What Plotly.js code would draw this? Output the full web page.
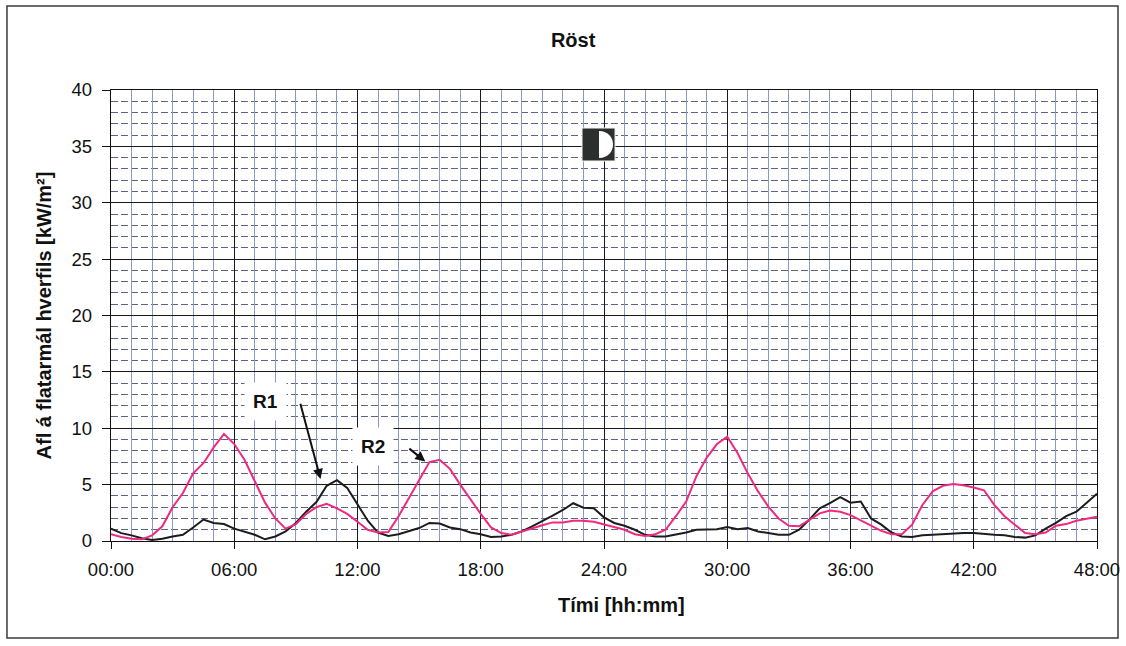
<!DOCTYPE html>
<html>
<head>
<meta charset="utf-8">
<script src="https://cdn.plot.ly/plotly-3.0.1.min.js"></script>
<style>
  html, body { margin: 0; padding: 0; background: #ffffff; }
  #chart { width: 1126px; height: 646px; }
</style>
</head>
<body>
<div id="chart"></div>
<script>
// Time of day in hours, half-hour steps over two days
const hours = [
  0, 0.5, 1, 1.5, 2, 2.5, 3, 3.5, 4, 4.5, 5, 5.5, 6, 6.5, 7, 7.5, 8, 8.5, 9, 9.5,
  10, 10.5, 11, 11.5, 12, 12.5, 13, 13.5, 14, 14.5, 15, 15.5, 16, 16.5, 17, 17.5,
  18, 18.5, 19, 19.5, 20, 20.5, 21, 21.5, 22, 22.5, 23, 23.5, 24, 24.5, 25, 25.5,
  26, 26.5, 27, 27.5, 28, 28.5, 29, 29.5, 30, 30.5, 31, 31.5, 32, 32.5, 33, 33.5,
  34, 34.5, 35, 35.5, 36, 36.5, 37, 37.5, 38, 38.5, 39, 39.5, 40, 40.5, 41, 41.5,
  42, 42.5, 43, 43.5, 44, 44.5, 45, 45.5, 46, 46.5, 47, 47.5, 48
];

// Power per unit area at station R1 [kW/m²]
const powerR1 = [
  1.1, 0.7, 0.5, 0.25, 0.1, 0.2, 0.4, 0.55, 1.2, 1.9, 1.6, 1.5, 1.1, 0.8, 0.55, 0.15, 0.4, 0.85, 1.6, 2.6,
  3.45, 4.9, 5.4, 4.7, 3.2, 1.8, 0.75, 0.45, 0.6, 0.85, 1.15, 1.6, 1.55, 1.2, 1.05, 0.75,
  0.6, 0.35, 0.4, 0.55, 0.85, 1.3, 1.75, 2.25, 2.75, 3.35, 2.95, 2.9, 2.1, 1.6, 1.35, 1.0,
  0.55, 0.4, 0.4, 0.55, 0.75, 1.0, 1.05, 1.05, 1.25, 1.05, 1.15, 0.85, 0.7, 0.55, 0.55, 1.0,
  1.9, 2.9, 3.35, 3.9, 3.4, 3.5, 2.0, 1.45, 0.75, 0.4, 0.35, 0.5, 0.55, 0.6, 0.7, 0.7,
  0.7, 0.6, 0.55, 0.5, 0.35, 0.3, 0.5, 1.1, 1.6, 2.2, 2.6, 3.4, 4.2
];

// Power per unit area at station R2 [kW/m²]
const powerR2 = [
  0.6, 0.35, 0.2, 0.15, 0.5, 1.3, 3.0, 4.25, 6.0, 6.9, 8.3, 9.5, 8.6, 7.2, 5.3, 3.4, 2.0, 1.1, 1.5, 2.4,
  3.0, 3.3, 2.9, 2.4, 1.7, 1.0, 0.75, 0.8, 2.2, 3.8, 5.4, 7.0, 7.2, 6.4, 5.0, 3.65,
  2.4, 1.2, 0.7, 0.55, 0.85, 1.15, 1.4, 1.65, 1.65, 1.8, 1.8, 1.7, 1.45, 1.2, 1.0, 0.6,
  0.45, 0.6, 1.0, 2.2, 3.5, 5.75, 7.4, 8.6, 9.25, 7.8, 6.0, 4.4, 3.05, 2.0, 1.35, 1.3,
  1.9, 2.45, 2.7, 2.6, 2.3, 1.85, 1.35, 0.9, 0.6, 0.6, 1.45, 3.2, 4.4, 4.9, 5.05, 4.95,
  4.75, 4.5, 3.2, 2.2, 1.45, 0.7, 0.6, 0.75, 1.35, 1.5, 1.8, 2.0, 2.15
];

// Axis ticks
const timeTicks = [0, 6, 12, 18, 24, 30, 36, 42, 48];
const timeLabels = ['00:00', '06:00', '12:00', '18:00', '24:00', '30:00', '36:00', '42:00', '48:00'];
const hourGrid = [
  0, 1, 2, 3, 4, 5, 6, 7, 8, 9, 10, 11, 12, 13, 14, 15, 16, 17, 18, 19, 20, 21, 22, 23, 24,
  25, 26, 27, 28, 29, 30, 31, 32, 33, 34, 35, 36, 37, 38, 39, 40, 41, 42, 43, 44, 45, 46, 47, 48
];
const powerTicks = [0, 5, 10, 15, 20, 25, 30, 35, 40];

// R1 sits on the hourly-grid axis, R2 on the labelled six-hour axis (same range)
const traces = [
  {
    x: hours, y: powerR1, xaxis: 'x', yaxis: 'y', type: 'scatter', mode: 'lines', name: 'R1',
    line: { color: '#1c1c1c', width: 2 }
  },
  {
    x: hours, y: powerR2, xaxis: 'x2', yaxis: 'y', type: 'scatter', mode: 'lines', name: 'R2',
    line: { color: '#ee2a80', width: 2 }
  }
];

const axisFont = { family: 'Liberation Sans, Arial, sans-serif', size: 18.5, color: '#111' };

const layout = {
  width: 1126,
  height: 646,
  margin: { l: 111, r: 29, t: 90, b: 105, pad: 0 },
  paper_bgcolor: '#ffffff',
  plot_bgcolor: '#ffffff',
  font: { family: 'Liberation Sans, Arial, sans-serif', size: 17, color: '#111' },
  showlegend: false,
  title: {
    text: '<b>Röst</b>',
    x: 0.509, xanchor: 'center',
    y: 0.938, yanchor: 'middle',
    font: { size: 20, color: '#111' }
  },
  // hourly blue grid
  xaxis: {
    range: [0, 48],
    tickmode: 'array', tickvals: hourGrid,
    showticklabels: false, ticks: '',
    showgrid: true, gridcolor: '#8e98c6', gridwidth: 1,
    showline: true, linecolor: '#111', linewidth: 1.3, mirror: true,
    zeroline: false, fixedrange: true
  },
  // six-hour black grid with hh:mm labels
  xaxis2: {
    overlaying: 'x', anchor: 'y', side: 'bottom',
    range: [0, 48],
    tickmode: 'array', tickvals: timeTicks, ticktext: timeLabels,
    tickfont: axisFont,
    ticks: 'outside', ticklen: 7, tickcolor: '#111', ticklabelstandoff: 5,
    showgrid: true, gridcolor: '#1a1a1a', gridwidth: 1,
    showline: false, zeroline: false, fixedrange: true
  },
  yaxis: {
    range: [0, 40],
    tickmode: 'array', tickvals: powerTicks,
    tickfont: axisFont,
    ticks: 'outside', ticklen: 8, tickcolor: '#111', ticklabelstandoff: 6,
    showgrid: true, gridcolor: '#1a1a1a', gridwidth: 1,
    showline: true, linecolor: '#111', linewidth: 1.3, mirror: true,
    zeroline: false, fixedrange: true,
    minor: { tickmode: 'linear', tick0: 0, dtick: 1, showgrid: true, gridcolor: '#5d6280', gridwidth: 1, griddash: '7px,3px' },
    title: { text: '<b>Afl á flatarmál hverfils [kW/m²]</b>', font: { size: 20, color: '#111' }, standoff: 14 }
  },
  shapes: [
    // outer frame of the figure
    { type: 'rect', xref: 'paper', yref: 'paper', x0: -0.1055, x1: 1.0213, y0: -0.2151, y1: 1.1863,
      line: { color: '#3a3a3a', width: 1.5 }, fillcolor: 'rgba(0,0,0,0)', layer: 'below' },
    // logo: dark square with a white half disc
    { type: 'rect', xref: 'paper', yref: 'paper', x0: 0.4777, x1: 0.5112, y0: 0.8426, y1: 0.9157,
      line: { color: '#f2f2f2', width: 1 }, fillcolor: '#2b302f', layer: 'above' },
    { type: 'path', xref: 'paper', yref: 'paper',
      path: 'M 0.4949,0.9091 C 0.5139,0.9091 0.5139,0.8492 0.4949,0.8492 Z',
      line: { width: 0 }, fillcolor: '#ffffff', layer: 'above' }
  ],
  annotations: [
    // x axis title
    { x: 0.518, y: -0.142, xref: 'paper', yref: 'paper', xanchor: 'center', yanchor: 'middle',
      text: '<b>Tími [hh:mm]</b>', showarrow: false, font: { size: 20, color: '#111' } },
    { x: 7.5, y: 12.4, xref: 'x', yref: 'y', text: '<b>R1</b>', showarrow: false,
      font: { size: 19, color: '#111' }, bgcolor: '#ffffff', borderpad: 8 },
    { x: 10.2, y: 5.5, ax: 9.2, ay: 12.3, xref: 'x', yref: 'y', axref: 'x', ayref: 'y',
      text: '', showarrow: true, arrowhead: 2, arrowsize: 1, arrowwidth: 2, arrowcolor: '#111' },
    { x: 12.75, y: 8.4, xref: 'x', yref: 'y', text: '<b>R2</b>', showarrow: false,
      font: { size: 19, color: '#111' }, bgcolor: '#ffffff', borderpad: 8 },
    { x: 15.3, y: 7.05, ax: 14.45, ay: 8.3, xref: 'x', yref: 'y', axref: 'x', ayref: 'y',
      text: '', showarrow: true, arrowhead: 2, arrowsize: 1, arrowwidth: 2, arrowcolor: '#111' }
  ]
};

Plotly.newPlot('chart', traces, layout, { displayModeBar: false, staticPlot: true });
</script>
</body>
</html>
